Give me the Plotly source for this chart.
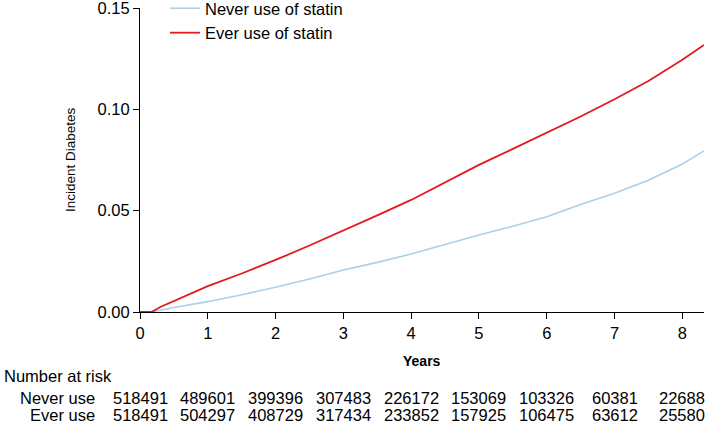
import plotly.graph_objects as go

# Cumulative incidence curves
years_ever = [0.0, 0.17, 0.3, 0.59, 1.0, 1.5, 2.0, 2.5, 2.8, 3.0, 3.5, 4.0, 4.5, 5.0, 5.5, 6.0, 6.5, 7.0, 7.5, 8.0, 8.32]
inc_ever = [0.0, 0.0, 0.0025, 0.0068, 0.0128, 0.019, 0.0257, 0.0328, 0.0372, 0.0401, 0.0477, 0.0553, 0.0638, 0.0726, 0.0805, 0.0885, 0.0965, 0.1050, 0.1140, 0.1245, 0.1318]

years_never = [0.0, 0.17, 0.5, 1.0, 1.5, 2.0, 2.5, 2.8, 3.0, 3.5, 4.0, 4.5, 5.0, 5.5, 6.0, 6.5, 7.0, 7.5, 7.72, 8.0, 8.32]
inc_never = [0.0, 0.0, 0.0022, 0.0051, 0.0085, 0.0122, 0.0163, 0.0191, 0.0207, 0.0245, 0.0286, 0.0333, 0.038, 0.0423, 0.047, 0.053, 0.0586, 0.065, 0.0685, 0.073, 0.0795]

# Number at risk table
risk_times = [0, 1, 2, 3, 4, 5, 6, 7, 8]
risk_never = [518491, 489601, 399396, 307483, 226172, 153069, 103326, 60381, 22688]
risk_ever = [518491, 504297, 408729, 317434, 233852, 157925, 106475, 63612, 25580]

y_ticks = [0, 0.05, 0.10, 0.15]
x_ticks = [0, 1, 2, 3, 4, 5, 6, 7, 8]

FONT = "Liberation Sans, Arial, sans-serif"
FS = 16.5

fig = go.Figure()
fig.add_trace(go.Scatter(x=years_never, y=inc_never, mode="lines",
                         name="Never use of statin",
                         line=dict(color="#a9d0e8", width=1.6)))
fig.add_trace(go.Scatter(x=years_ever, y=inc_ever, mode="lines",
                         name="Ever use of statin",
                         line=dict(color="#e3191f", width=1.8)))

PL, PR, PT, PB = 140, 5, 8, 112
W, H = 709, 424
plot_w = W - PL - PR
plot_h = H - PT - PB


def px_to_paper_x(px):
    return (px - PL) / plot_w


def py_to_paper_y(py):
    return (H - PB - py) / plot_h


annotations = []
# y-axis title
annotations.append(dict(text="Incident Diabetes", xref="paper", yref="paper",
                        x=px_to_paper_x(70), y=0.5, textangle=-90,
                        showarrow=False, xanchor="center", yanchor="middle",
                        font=dict(family=FONT, size=13.5, color="black")))
# x-axis title
annotations.append(dict(text="<b>Years</b>", xref="paper", yref="paper",
                        x=0.5, y=py_to_paper_y(361), showarrow=False,
                        xanchor="center", yanchor="middle",
                        font=dict(family=FONT, size=14, color="black")))
# Number at risk table
annotations.append(dict(text="Number at risk", xref="paper", yref="paper",
                        x=px_to_paper_x(2), y=py_to_paper_y(376), showarrow=False,
                        xanchor="left", yanchor="middle",
                        font=dict(family=FONT, size=FS, color="black")))
for label, vals, py in [("Never use", risk_never, 397.5), ("Ever use", risk_ever, 414.5)]:
    annotations.append(dict(text=label, xref="paper", yref="paper",
                            x=px_to_paper_x(97), y=py_to_paper_y(py), showarrow=False,
                            xanchor="right", yanchor="middle",
                            font=dict(family=FONT, size=FS, color="black")))
    for t, v in zip(risk_times, vals):
        annotations.append(dict(text=str(v), xref="x", yref="paper",
                                x=t, y=py_to_paper_y(py), showarrow=False,
                                xanchor="center", yanchor="middle",
                                font=dict(family=FONT, size=FS, color="black")))

fig.update_layout(
    width=W, height=H,
    margin=dict(l=PL, r=PR, t=PT, b=PB, autoexpand=False),
    paper_bgcolor="white", plot_bgcolor="white",
    font=dict(family=FONT, size=FS, color="black"),
    showlegend=True,
    legend=dict(x=px_to_paper_x(165), y=py_to_paper_y(-9), xanchor="left", yanchor="top",
                bgcolor="rgba(0,0,0,0)", font=dict(family=FONT, size=FS, color="black"),
                tracegroupgap=0, itemwidth=30),
    annotations=annotations,
    xaxis=dict(range=[0, 8.32], tickvals=x_ticks, showgrid=False, zeroline=False,
               showline=True, linecolor="black", linewidth=1,
               ticks="outside", ticklen=6, tickcolor="black", tickwidth=1,
               ticklabeloverflow="allow",
               tickfont=dict(family=FONT, size=FS, color="black")),
    yaxis=dict(range=[0, 0.15001], tickvals=y_ticks, tickformat=".2f", showgrid=False,
               zeroline=False, showline=True, linecolor="black", linewidth=1,
               ticks="outside", ticklen=6, tickcolor="black", tickwidth=1,
               ticklabeloverflow="allow",
               tickfont=dict(family=FONT, size=FS, color="black")),
)

fig.write_html("out.html", config={"displayModeBar": False},
               post_script="document.body.style.margin='0';document.body.style.padding='0';document.body.style.overflow='hidden';")
